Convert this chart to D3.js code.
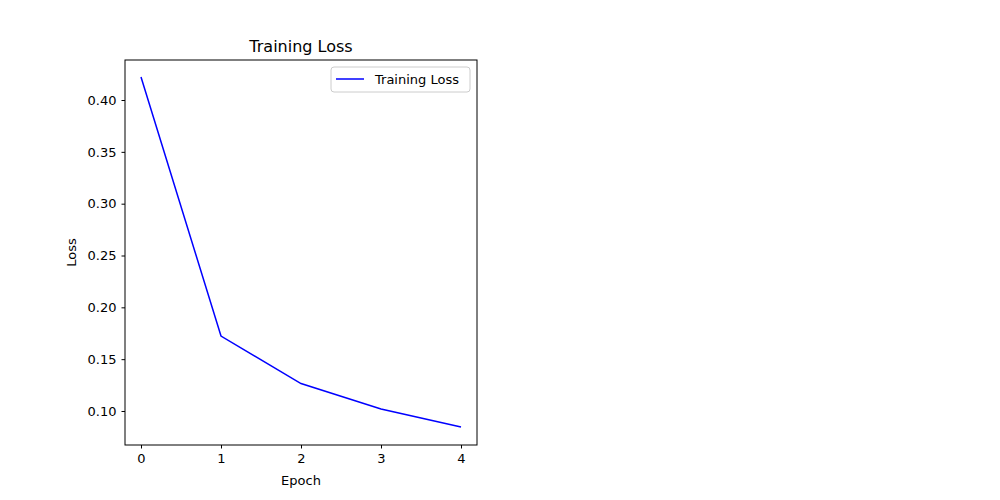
<!DOCTYPE html>
<html>
<head>
<meta charset="utf-8">
<script src="https://cdn.jsdelivr.net/npm/d3@7"></script>
<style>
  body { margin: 0; background: #fff; }
  svg { font-family: "DejaVu Sans", sans-serif; }
</style>
</head>
<body>
<svg id="chart" width="1000" height="500"></svg>
<script>
// Data
var epochs = [0, 1, 2, 3, 4];
var lossValues = [0.4222, 0.1723, 0.1265, 0.1019, 0.0846];
var yTicks = [0.10, 0.15, 0.20, 0.25, 0.30, 0.35, 0.40];
var seriesName = "Training Loss";

var svg = d3.select("#chart");
// plot box (window.top is read-only, so avoid "top")
var plotLeft = 125, plotRight = 477, plotTop = 60, plotBottom = 445;

var x = d3.scaleLinear().domain([-0.2, 4.2]).range([plotLeft, plotRight]);
var y = d3.scaleLinear().domain([0.0672, 0.4386]).range([plotBottom, plotTop]);

// Axes
var xAxis = svg.append("g")
    .attr("transform", "translate(0," + plotBottom + ")")
    .call(d3.axisBottom(x).tickValues(epochs).tickFormat(d3.format("d")).tickSize(3.5).tickPadding(5));
var yAxis = svg.append("g")
    .attr("transform", "translate(" + plotLeft + ",0)")
    .call(d3.axisLeft(y).tickValues(yTicks).tickFormat(d3.format(".2f")).tickSize(3.5).tickPadding(5));
[xAxis, yAxis].forEach(function(g) {
    g.select(".domain").remove();
    g.selectAll("text").attr("font-size", 13).attr("fill", "#000").attr("font-family", "DejaVu Sans");
    g.selectAll("line").attr("stroke", "#000");
});

// Frame
svg.append("rect")
    .attr("x", plotLeft).attr("y", plotTop)
    .attr("width", plotRight - plotLeft).attr("height", plotBottom - plotTop)
    .attr("fill", "none").attr("stroke", "#000").attr("stroke-width", 1);

// Line
var line = d3.line()
    .x(function(d, i) { return x(epochs[i]); })
    .y(function(d) { return y(d); });
svg.append("path")
    .datum(lossValues)
    .attr("d", line)
    .attr("fill", "none").attr("stroke", "blue").attr("stroke-width", 1.5);

// Labels
svg.append("text").attr("x", (plotLeft + plotRight) / 2).attr("y", 52)
    .attr("text-anchor", "middle").attr("font-size", 16).text("Training Loss");
svg.append("text").attr("x", (plotLeft + plotRight) / 2).attr("y", 485)
    .attr("text-anchor", "middle").attr("font-size", 13).text("Epoch");
svg.append("text").attr("transform", "translate(76," + ((plotTop + plotBottom) / 2) + ") rotate(-90)")
    .attr("text-anchor", "middle").attr("font-size", 13).text("Loss");

// Legend
var lg = svg.append("g");
lg.append("rect").attr("x", 331).attr("y", 67).attr("width", 139).attr("height", 25)
    .attr("rx", 3).attr("fill", "#fff").attr("stroke", "#ccc");
lg.append("line").attr("x1", 336).attr("x2", 364).attr("y1", 79).attr("y2", 79)
    .attr("stroke", "blue").attr("stroke-width", 1.5);
lg.append("text").attr("x", 375).attr("y", 84).attr("font-size", 13).text(seriesName);
</script>
</body>
</html>
